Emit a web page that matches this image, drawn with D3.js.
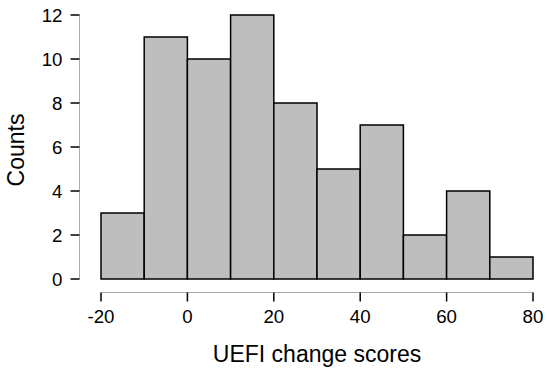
<!DOCTYPE html>
<html><head><meta charset="utf-8">
<script src="https://cdn.jsdelivr.net/npm/d3@7"></script>
<style>body{margin:0;background:#fff}svg{display:block}text{font-family:"Liberation Sans",Arial,sans-serif;fill:#000}</style>
</head><body>
<svg id="c" width="550" height="372"></svg>
<script>
const binEdges = [-20,-10,0,10,20,30,40,50,60,70,80];
const counts = [3,11,10,12,8,5,7,2,4,1];
const xTicks = [-20,0,20,40,60,80];
const yTicks = [0,2,4,6,8,10,12];

const svg = d3.select("#c");
const x = d3.scaleLinear().domain([-20,80]).range([101,533]);
const y = d3.scaleLinear().domain([0,12]).range([279,15]);

const bins = counts.map((c,i)=>({x0:binEdges[i],x1:binEdges[i+1],c}));
svg.append("g").selectAll("rect").data(bins).join("rect")
  .attr("x",d=>x(d.x0)).attr("width",d=>x(d.x1)-x(d.x0))
  .attr("y",d=>y(d.c)).attr("height",d=>y(0)-y(d.c))
  .attr("fill","#bebebe").attr("stroke","#000").attr("stroke-width",1.5);

// x axis
const gx = svg.append("g").attr("transform","translate(0,292.5)");
gx.append("line").attr("x1",x(-20)).attr("x2",x(80)).attr("stroke","#aaa").attr("stroke-width",1);
gx.selectAll("line.t").data(xTicks).join("line").attr("class","t")
  .attr("x1",d=>x(d)).attr("x2",d=>x(d)).attr("y1",0).attr("y2",9).attr("stroke","#000").attr("stroke-width",1.5);
gx.selectAll("text").data(xTicks).join("text")
  .attr("x",d=>x(d)).attr("y",30.8).attr("text-anchor","middle").attr("font-size",18.7).text(d=>d);

// y axis
const gy = svg.append("g").attr("transform","translate(79.5,0)");
gy.append("line").attr("y1",y(0)).attr("y2",y(12)).attr("stroke","#aaa").attr("stroke-width",1);
gy.selectAll("line.t").data(yTicks).join("line").attr("class","t")
  .attr("y1",d=>y(d)).attr("y2",d=>y(d)).attr("x1",0).attr("x2",-9).attr("stroke","#000").attr("stroke-width",1.5);
gy.selectAll("text").data(yTicks).join("text")
  .attr("x",-17).attr("y",d=>y(d)).attr("dy","0.36em").attr("text-anchor","end").attr("font-size",18.7).text(d=>d);

svg.append("text").attr("x",317).attr("y",362).attr("text-anchor","middle").attr("font-size",23).text("UEFI change scores");
svg.append("text").attr("transform","translate(24,150) rotate(-90)").attr("text-anchor","middle").attr("font-size",23).text("Counts");
</script>
</body></html>
